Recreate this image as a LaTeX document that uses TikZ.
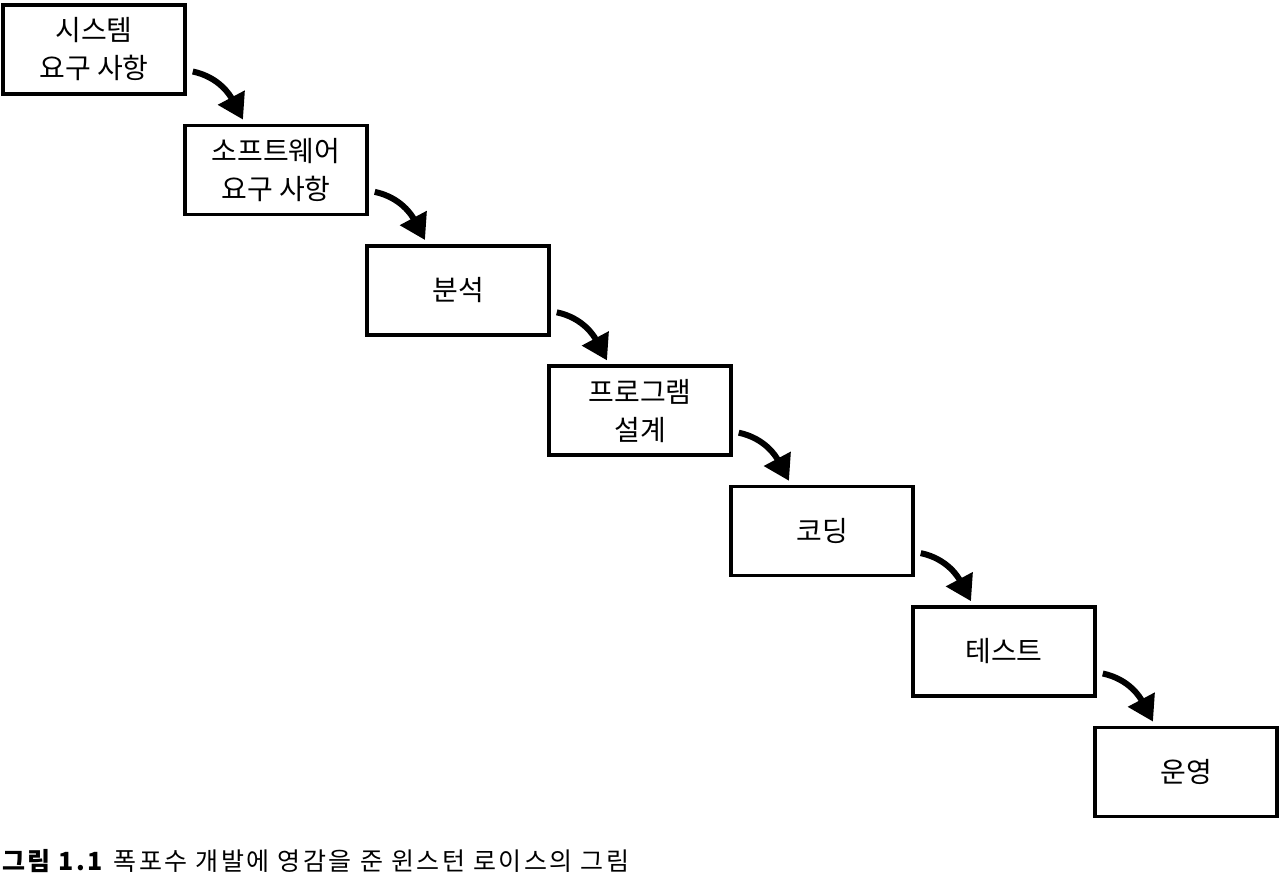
\documentclass[tikz,border=0pt]{standalone}
\usepackage{fontspec}
\newfontfamily\kr{Noto Sans CJK KR}
\newfontfamily\krcap[LetterSpace=10]{Noto Sans CJK KR}
\usetikzlibrary{arrows.meta}
\tikzset{
  stage/.style={draw=black, line width=3.5pt, minimum width=182pt, minimum height=89pt,
    inner sep=0pt, align=center, font=\kr\fontsize{28}{38}\selectfont},
  flow/.style={line width=6pt, -{Triangle[length=25pt,width=29pt]}},
}
\begin{document}
\begin{tikzpicture}[x=1pt,y=-1pt]
\useasboundingbox[fill=white] (0,0) rectangle (1280,883);
\node[stage] (b1) at (94,49.5)    {시스템\\요구 사항};
\node[stage] (b2) at (276,169.9)  {소프트웨어\\요구 사항};
\node[stage] (b3) at (458,290.3)  {분석};
\node[stage] (b4) at (640,410.7)  {프로그램\\설계};
\node[stage] (b5) at (822,531.1)  {코딩};
\node[stage] (b6) at (1004,651.5) {테스트};
\node[stage] (b7) at (1186,771.9) {운영};
\foreach \a/\b in {b1/b2,b2/b3,b3/b4,b4/b5,b5/b6,b6/b7}{
  \draw[flow] ([xshift=6pt,yshift=-22pt]\a.east) to[out=-12,in=118] ([xshift=-33pt,yshift=4pt]\b.north);
}
\node[anchor=west, inner sep=0pt, font=\krcap\fontsize{25}{30}\selectfont] (cap) at (2,861)
  {\textbf{그림 1.1} 폭포수 개발에 영감을 준 윈스턴 로이스의 그림};
\end{tikzpicture}
\end{document}
